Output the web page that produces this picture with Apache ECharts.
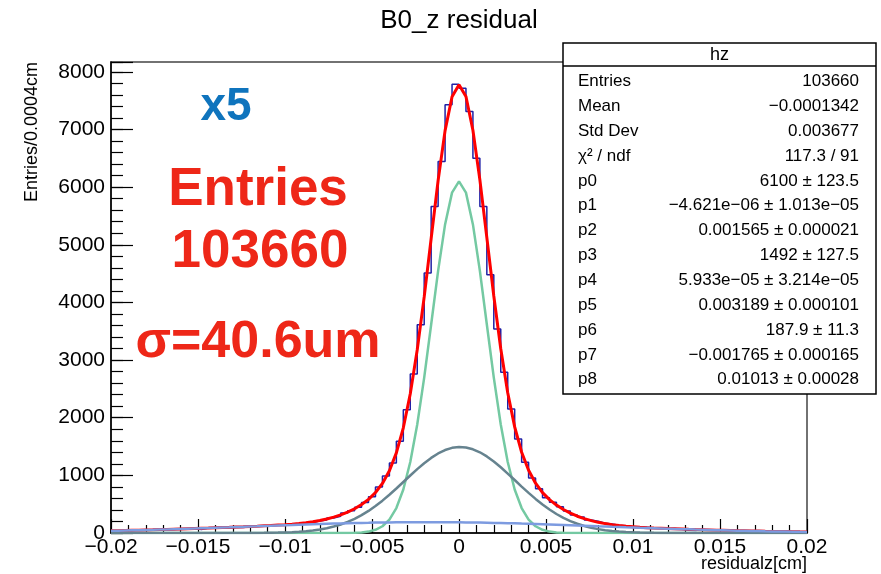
<!DOCTYPE html>
<html><head><meta charset="utf-8">
<script src="https://cdn.jsdelivr.net/npm/echarts@6/dist/echarts.min.js"></script>
<style>html,body{margin:0;padding:0;background:#fff}#c{width:881px;height:574px}</style>
</head><body><div id="c"></div>
<script>
const xMin = -0.02, xMax = 0.02, binWidth = 0.0004;
const yMax = 8170;

// histogram bin contents (100 bins of 0.0004 cm from -0.02 to 0.02)
const hzCounts = [33,45,41,52,47,58,55,63,60,72,
  69,80,62,88,84,97,93,95,97,107,
  120,118,131,139,138,152,158,176,184,210,
  226,262,290,345,388,445,528,630,800,990,
  1216,1591,2140,2759,3613,4509,5664,6444,7427,7785,
  7716,7311,6502,5664,4480,3539,2787,2152,1632,1227,
  956,766,610,534,455,380,312,276,226,204,
  170,157,133,127,110,100,98,86,85,75,
  77,66,46,44,60,51,53,44,46,38,
  41,34,36,29,31,25,26,21,22,12];

// fit curves sampled at 101 points from -0.02 to 0.02 (step 0.0004)
const fitTotal = [37,40,43,46,49,52,55,59,62,66,
  70,74,78,82,86,91,95,99,105,109,
  114,119,125,131,138,145,154,166,179,196,
  216,242,275,314,362,421,494,584,702,860,
  1080,1390,1825,2416,3178,4095,5108,6114,6979,7567,
  7777,
  7572,6987,6126,5123,4111,3195,2432,1840,1401,1089,
  864,701,579,484,407,344,291,249,214,185,
  163,144,130,117,108,99,92,86,81,76,
  72,68,63,59,56,53,49,46,43,40,
  38,35,33,30,28,26,24,22,20,19];

const gausNarrow = [0,0,0,0,0,0,0,0,0,0,
  0,0,0,0,0,0,0,0,0,0,
  0,0,0,0,0,0,0,0,0,0,
  0,0,0,0,1,4,10,24,55,117,
  233,433,754,1231,1882,2696,3617,4546,5353,5904,
  6100,
  5904,5353,4546,3617,2696,1882,1231,754,433,233,
  117,55,24,10,4,1,0,0,0,0,
  0,0,0,0,0,0,0,0,0,0,
  0,0,0,0,0,0,0,0,0,0,
  0,0,0,0,0,0,0,0,0,0];

const gausMid = [0,0,0,0,0,0,0,0,0,0,
  0,0,0,0,0,0,0,0,1,1,
  1,2,3,5,7,10,15,22,31,44,
  61,83,112,148,192,245,309,383,467,561,
  664,772,885,998,1108,1211,1303,1380,1439,1477,
  1492,
  1484,1452,1400,1328,1240,1140,1031,919,805,696,
  591,494,407,330,263,207,160,122,91,67,
  49,35,25,17,12,8,5,3,2,1,
  1,1,0,0,0,0,0,0,0,0,
  0,0,0,0,0,0,0,0,0,0];

const gausWide = [37,40,43,46,49,52,55,59,62,66,
  70,74,78,82,86,91,95,99,104,108,
  113,117,122,126,131,135,139,144,148,152,
  155,159,163,166,169,172,175,177,180,182,
  183,185,186,187,188,188,188,188,187,186,
  185,
  184,182,180,178,175,173,170,167,163,160,
  156,152,148,144,140,136,131,127,123,118,
  114,109,105,100,96,91,87,83,79,75,
  71,67,63,59,56,53,49,46,43,40,
  38,35,33,30,28,26,24,22,20,19];

const statLabels = ['Entries','Mean','Std Dev','\u03c7\u00b2 / ndf','p0','p1','p2','p3','p4','p5','p6','p7','p8'];
const statValues = ['103660','\u22120.0001342','0.003677','117.3 / 91','6100 \u00b1 123.5',
  '\u22124.621e\u221206 \u00b1 1.013e\u221205','0.001565 \u00b1 0.000021','1492 \u00b1 127.5',
  '5.933e\u221205 \u00b1 3.214e\u221205','0.003189 \u00b1 0.000101','187.9 \u00b1 11.3',
  '\u22120.001765 \u00b1 0.000165','0.01013 \u00b1 0.00028'];

const FONT = '"Liberation Sans", Arial, Helvetica, sans-serif';

function histPoints(vals){
  const pts = [];
  vals.forEach((v, j) => {
    pts.push([xMin + j*binWidth, v]);
    pts.push([xMin + (j+1)*binWidth, v]);
  });
  return pts;
}
function curvePoints(vals){
  return vals.map((v, i) => [xMin + i*binWidth, v]);
}
function fmtX(v){
  if (Math.abs(v) < 1e-12) return '0';
  const s = String(+Math.abs(v).toFixed(4));
  return (v < 0 ? '\u2212' : '') + s;
}

const chart = echarts.init(document.getElementById('c'), null, {renderer:'canvas'});

const graphics = [
  {type:'text', x:459, y:21, z:100, style:{text:'B0_z residual', font:'26px '+FONT, fill:'#000', textAlign:'center', textVerticalAlign:'middle'}},
  {type:'text', x:807, y:564, z:100, style:{text:'residualz[cm]', font:'18px '+FONT, fill:'#000', textAlign:'right', textVerticalAlign:'middle'}},
  {type:'text', x:32, y:62, rotation:Math.PI/2, z:100, style:{text:'Entries/0.0004cm', font:'18px '+FONT, fill:'#000', textAlign:'right', textVerticalAlign:'middle'}},
  {type:'rect', z:90, shape:{x:563, y:43, width:313, height:351}, style:{fill:'#fff', stroke:'#000', lineWidth:1.5}},
  {type:'line', z:91, shape:{x1:563, y1:66, x2:876, y2:66}, style:{stroke:'#000', lineWidth:1.5}},
  {type:'text', x:719.5, y:55, z:92, style:{text:'hz', font:'18px '+FONT, fill:'#000', textAlign:'center', textVerticalAlign:'middle'}},
  {type:'text', x:226, y:107, z:100, style:{text:'x5', font:'bold 46px '+FONT, fill:'#0f74bd', textAlign:'center', textVerticalAlign:'middle'}},
  {type:'text', x:258, y:190, z:100, style:{text:'Entries', font:'bold 53px '+FONT, fill:'#ee2718', textAlign:'center', textVerticalAlign:'middle'}},
  {type:'text', x:260, y:252, z:100, style:{text:'103660', font:'bold 53px '+FONT, fill:'#ee2718', textAlign:'center', textVerticalAlign:'middle'}},
  {type:'text', x:258, y:343, z:100, style:{text:'\u03c3=40.6um', font:'bold 52px '+FONT, fill:'#ee2718', textAlign:'center', textVerticalAlign:'middle'}}
];
statLabels.forEach((t, i) => {
  const y = 81.5 + i*24.85;
  graphics.push({type:'text', x:578, y:y, z:92, style:{text:t, font:'17px '+FONT, fill:'#000', textAlign:'left', textVerticalAlign:'middle'}});
  graphics.push({type:'text', x:859, y:y, z:92, style:{text:statValues[i], font:'17px '+FONT, fill:'#000', textAlign:'right', textVerticalAlign:'middle'}});
});

const lineBase = {type:'line', showSymbol:false, symbol:'none', animation:false, smooth:false, xAxisIndex:0, yAxisIndex:0};

chart.setOption({
  animation:false,
  backgroundColor:'#fff',
  grid:{left:111, top:62, width:696, height:471, show:true, borderColor:'#444', borderWidth:1.5, backgroundColor:'transparent'},
  xAxis:[{
    type:'value', min:xMin, max:xMax, interval:0.005,
    axisLine:{show:true, onZero:false, lineStyle:{color:'#000', width:1.5}},
    axisTick:{show:true, inside:true, length:14, lineStyle:{color:'#000', width:1.2}},
    minorTick:{show:true, splitNumber:5, length:8, lineStyle:{color:'#000', width:1.2}},
    splitLine:{show:false}, minorSplitLine:{show:false},
    axisLabel:{show:true, fontSize:21, color:'#000', fontFamily:FONT, margin:4, formatter:fmtX, showMinLabel:true, showMaxLabel:true}
  }],
  yAxis:[{
    type:'value', min:0, max:yMax, interval:200, position:'left',
    axisLine:{show:true, onZero:false, lineStyle:{color:'#000', width:1.5}},
    axisTick:{show:true, inside:true, length:12, lineStyle:{color:'#000', width:1.2}},
    splitLine:{show:false},
    axisLabel:{show:true, fontSize:21, color:'#000', fontFamily:FONT, margin:6,
      formatter:v => (Math.abs(v % 1000) < 1e-6 && v <= 8000) ? String(v) : ''}
  },{
    type:'value', min:0, max:yMax, interval:1000, position:'left', offset:0,
    axisLine:{show:false, onZero:false},
    axisTick:{show:true, inside:true, length:22, lineStyle:{color:'#000', width:1.2}},
    splitLine:{show:false},
    axisLabel:{show:false}
  }],
  graphic:graphics,
  series:[
    Object.assign({}, lineBase, {name:'hz', data:histPoints(hzCounts), z:2, lineStyle:{color:'#2020a6', width:1.5}}),
    Object.assign({}, lineBase, {name:'fit', data:curvePoints(fitTotal), z:3, lineStyle:{color:'#ff0000', width:3}}),
    Object.assign({}, lineBase, {name:'g1', data:curvePoints(gausNarrow), z:4, lineStyle:{color:'#74c9a2', width:2.5}}),
    Object.assign({}, lineBase, {name:'g2', data:curvePoints(gausMid), z:5, lineStyle:{color:'#66838f', width:2.5}}),
    Object.assign({}, lineBase, {name:'g3', data:curvePoints(gausWide), z:6, lineStyle:{color:'#7d9be0', width:2.5}})
  ]
});
</script>
</body></html>
